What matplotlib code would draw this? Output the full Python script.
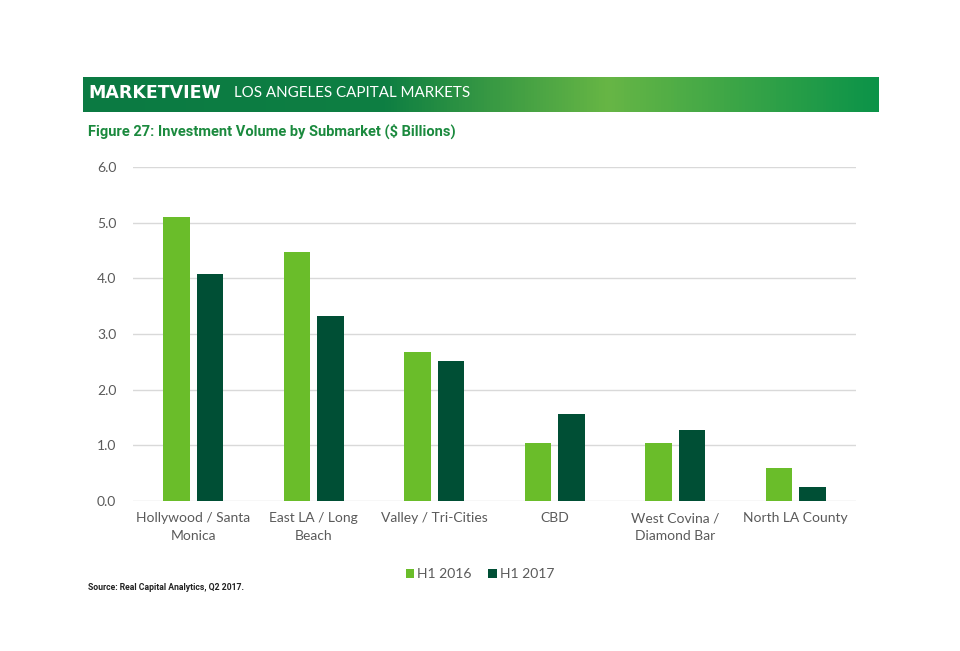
import numpy as np
import matplotlib.pyplot as plt
from matplotlib.colors import LinearSegmentedColormap

submarkets = ["Hollywood / Santa\nMonica", "East LA / Long\nBeach", "Valley / Tri-Cities",
              "CBD", "West Covina /\nDiamond Bar", "North LA County"]
h1_2016 = [5.10, 4.48, 2.67, 1.04, 1.05, 0.59]
h1_2017 = [4.07, 3.32, 2.51, 1.57, 1.27, 0.26]
yticks = [0.0, 1.0, 2.0, 3.0, 4.0, 5.0, 6.0]

light = "#6abd2a"
dark = "#004f35"
gray = "#5a5a5a"
narrow = ["Roboto", "DejaVu Sans"]
body = ["Lato", "DejaVu Sans"]

fig = plt.figure(figsize=(9.6, 6.51), dpi=100)

# header band with gradient
band = fig.add_axes([82.7 / 960, 1 - 111.7 / 651, 796 / 960, 35 / 651])
grad = LinearSegmentedColormap.from_list(
    "band", [(0, "#0b7a43"), (0.38, "#0e7f42"), (0.66, "#67b645"), (1.0, "#0b9349")])
band.imshow(np.linspace(0, 1, 256).reshape(1, -1), aspect="auto", cmap=grad,
            extent=[0, 1, 0, 1])
band.set_xlim(0, 1)
band.set_ylim(0, 1)
band.axis("off")

fig.text(88 / 960, 1 - 93 / 651, "MARKETVIEW", color="white", fontsize=12.5,
         fontweight="bold", family="DejaVu Sans", va="center", ha="left")
fig.text(234 / 960, 1 - 93 / 651, "LOS ANGELES CAPITAL MARKETS", color="white",
         fontsize=10.9, family=body, va="center", ha="left")

fig.text(88 / 960, 1 - 131 / 651, "Figure 27: Investment Volume by Submarket ($ Billions)",
         color="#1b8a3e", fontsize=10.5, fontweight="bold", family=narrow,
         va="center", ha="left")

ax = fig.add_axes([133 / 960, 150 / 651, 723 / 960, 334 / 651])
x = np.arange(len(submarkets))
w = 0.22
ax.bar(x - 0.14, h1_2016, w, color=light, label="H1 2016", zorder=3)
ax.bar(x + 0.14, h1_2017, w, color=dark, label="H1 2017", zorder=3)

ax.set_xlim(-0.5, len(submarkets) - 0.5)
ax.set_ylim(0, 6.0)
ax.set_yticks(yticks)
ax.set_yticklabels([f"{v:.1f}" for v in yticks])
ax.set_xticks(x)
ax.set_xticklabels(submarkets, linespacing=1.55)
ax.grid(axis="y", color="#d9d9d9", linewidth=1, zorder=0)
for s in ax.spines.values():
    s.set_visible(False)
ax.tick_params(length=0, labelsize=10, labelcolor=gray)
ax.tick_params(axis="y", pad=12)
ax.tick_params(axis="x", pad=8)
for lab in ax.get_xticklabels() + ax.get_yticklabels():
    lab.set_family(body)

leg = ax.legend(loc="center", bbox_to_anchor=(0.48, -0.22), ncol=2, frameon=False,
                handlelength=0.6, handleheight=0.6, handletextpad=0.2, columnspacing=1.2,
                prop={"family": body, "size": 10})
for t in leg.get_texts():
    t.set_color(gray)

fig.text(88 / 960, 1 - 588 / 651, "Source: Real Capital Analytics, Q2 2017.", color="#222222",
         fontsize=6.2, fontweight="bold", family=narrow, va="center", ha="left")

fig.savefig("out.png", dpi=100, facecolor="white")
